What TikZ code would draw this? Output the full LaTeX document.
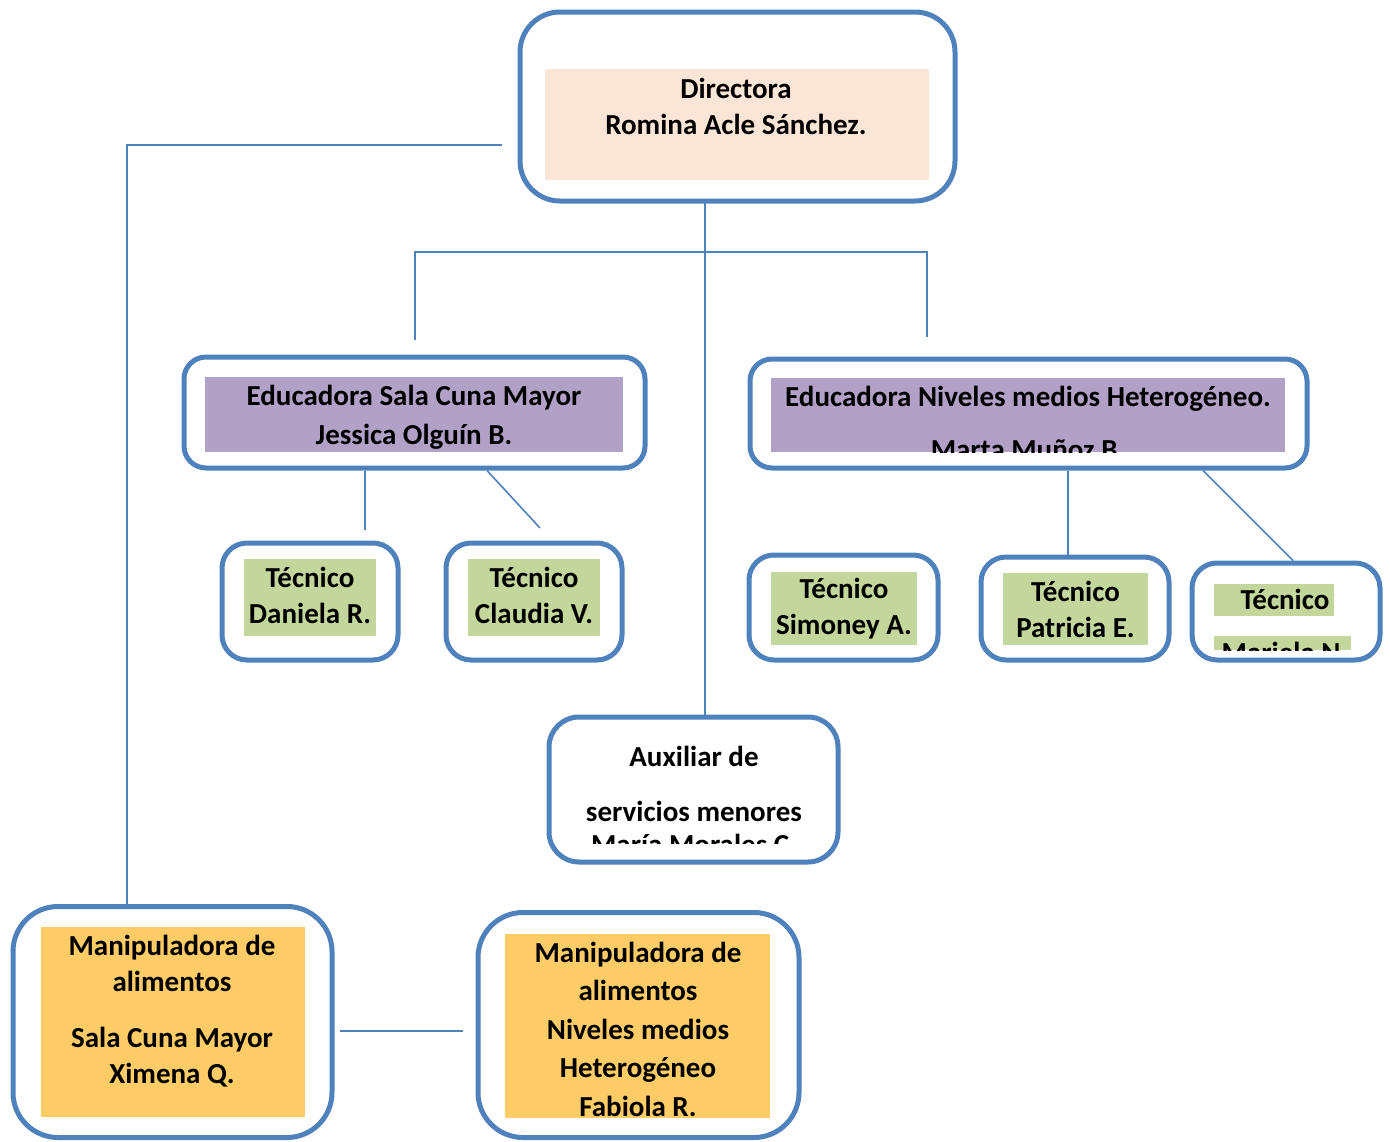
\documentclass[tikz,border=0pt]{standalone}
\usepackage{fontspec}
\setmainfont{Carlito}
\usepackage{tikz}
\definecolor{rim}{HTML}{4F81BD}
\definecolor{peachfill}{HTML}{FBE5D6}
\definecolor{lilacfill}{HTML}{B2A1C7}
\definecolor{sagefill}{HTML}{C3D69B}
\definecolor{amberfill}{HTML}{FECC66}
\tikzstyle{frame}=[rectangle,draw=rim,fill=white,line width=5pt]
\tikzstyle{link}=[draw=rim,line width=1.6pt]
\tikzstyle{patch}=[rectangle,inner sep=0pt,outer sep=0pt]
\tikzstyle{peach}=[patch,fill=peachfill]
\tikzstyle{lilac}=[patch,fill=lilacfill]
\tikzstyle{sage}=[patch,fill=sagefill]
\tikzstyle{amber}=[patch,fill=amberfill]
\tikzstyle{words}=[inner sep=0pt,align=center,font=\fontsize{29}{36}\selectfont\bfseries]

\begin{document}
\begin{tikzpicture}[x=1pt,y=-1pt]
  \useasboundingbox (0,0) rectangle (1390,1141);

  % frames
  \node[frame,rounded corners=40pt,minimum width=435pt,minimum height=189pt] (dir) at (737.5,106.5) {};
  \node[frame,rounded corners=22pt,minimum width=461pt,minimum height=111pt] (ecm) at (414.5,412.5) {};
  \node[frame,rounded corners=22pt,minimum width=557pt,minimum height=109pt] (enm) at (1028.5,413.5) {};
  \node[frame,rounded corners=25pt,minimum width=176pt,minimum height=117pt] (tdan) at (310,601.5) {};
  \node[frame,rounded corners=25pt,minimum width=176pt,minimum height=117pt] (tcla) at (534,601.5) {};
  \node[frame,rounded corners=25pt,minimum width=189pt,minimum height=105pt] (tsim) at (843.5,607.5) {};
  \node[frame,rounded corners=25pt,minimum width=188pt,minimum height=103pt] (tpat) at (1075,608.5) {};
  \node[frame,rounded corners=25pt,minimum width=188pt,minimum height=97pt] (tmar) at (1286,611.5) {};
  \node[frame,rounded corners=30pt,minimum width=289pt,minimum height=145pt] (aux) at (693.5,789.5) {};
  \node[frame,rounded corners=45pt,minimum width=319pt,minimum height=231pt] (man1) at (172.5,1022) {};
  \node[frame,rounded corners=45pt,minimum width=321pt,minimum height=225pt] (man2) at (638.5,1025) {};

  % fills
  \node[peach,minimum width=384pt,minimum height=111pt] (dirfill) at (737,124.5) {};
  \node[lilac,minimum width=418pt,minimum height=75pt] (ecmfill) at (414,414.5) {};
  \node[lilac,minimum width=514pt,minimum height=74pt] (enmfill) at (1028,415) {};
  \node[sage,minimum width=132pt,minimum height=77pt] (tdanfill) at (310,597.5) {};
  \node[sage,minimum width=132pt,minimum height=77pt] (tclafill) at (534,597.5) {};
  \node[sage,minimum width=146pt,minimum height=73pt] (tsimfill) at (844,608.5) {};
  \node[sage,minimum width=145pt,minimum height=72pt] (tpatfill) at (1075.5,609) {};
  \node[sage,minimum width=120pt,minimum height=32pt] (tmarfilla) at (1274,600) {};
  \node[sage,minimum width=137pt,minimum height=14pt] (tmarfillb) at (1282.5,643) {};
  \node[amber,minimum width=264pt,minimum height=190pt] (man1fill) at (173,1022) {};
  \node[amber,minimum width=265pt,minimum height=184pt] (man2fill) at (637.5,1026) {};

  % texts
  \node[words] (dirtxt) at (736,106) {Directora\\Romina Acle Sánchez.};
  \node[words] (ecmtxt) at (414,417.5) {Educadora Sala Cuna Mayor\\[3pt]Jessica Olguín B.};
  \begin{scope}
    \clip (enmfill.north west) rectangle (enmfill.south east);
    \node[words] (enmtxt) at (1028,422.5) {Educadora Niveles medios Heterogéneo.\\[17pt]Marta Muñoz B.};
  \end{scope}
  \node[words] (tdantxt) at (310,595) {Técnico\\Daniela R.};
  \node[words] (tclatxt) at (534,595) {Técnico\\Claudia V.};
  \node[words] (tsimtxt) at (844,608.5) {Técnico\\Simoney A.};
  \node[words] (tpattxt) at (1075.5,609) {Técnico\\Patricia E.};
  \begin{scope}
    \clip (tmarfilla.north west) rectangle (tmarfillb.south east);
    \node[words] (tmartxt) at (1285,625.5) {Técnico\\[17pt]Mariela N.};
  \end{scope}
  \begin{scope}
    \clip (aux.north west) rectangle (aux.east |- 0,843);
    \node[words] (auxtxt) at (694,800) {Auxiliar de\\[19pt]servicios menores\\[-3pt]María Morales C.};
  \end{scope}
  \node[words] (man1txt) at (172,1011) {Manipuladora de\\alimentos\\[20pt]Sala Cuna Mayor\\Ximena Q.};
  \node[words,font=\fontsize{29}{38.5}\selectfont\bfseries] (man2txt) at (638,1029) {Manipuladora de\\alimentos\\Niveles medios\\Heterogéneo\\Fabiola R.};

  % connectors
  \coordinate (trunk) at (705,200);
  \coordinate (barl) at (415,252);
  \coordinate (barr) at (927,252);
  \coordinate (ecmtop) at (415,340);
  \coordinate (enmtop) at (927,337);
  \coordinate (dirleft) at (502,145);
  \coordinate (manleg) at (127,904);
  \coordinate (dancap) at (365,530);
  \coordinate (claucap) at (540,528);
  \coordinate (mangapl) at (340,1031);
  \coordinate (mangapr) at (463,1031);

  \draw[link] (trunk) -- (trunk |- aux.north);
  \draw[link] (ecmtop) -- (barl) -- (barr) -- (enmtop);
  \draw[link] (dirleft) -| (manleg);
  \draw[link] (ecm.south -| dancap) -- (dancap);
  \draw[link] (ecm.south -| 487,0) -- (claucap);
  \draw[link] (enm.south -| 1068,0) -- (tpat.north -| 1068,0);
  \draw[link] (enm.south -| 1203,0) -- (tmar.north -| 1293,0);
  \draw[link] (mangapl) -- (mangapr);
\end{tikzpicture}
\end{document}
